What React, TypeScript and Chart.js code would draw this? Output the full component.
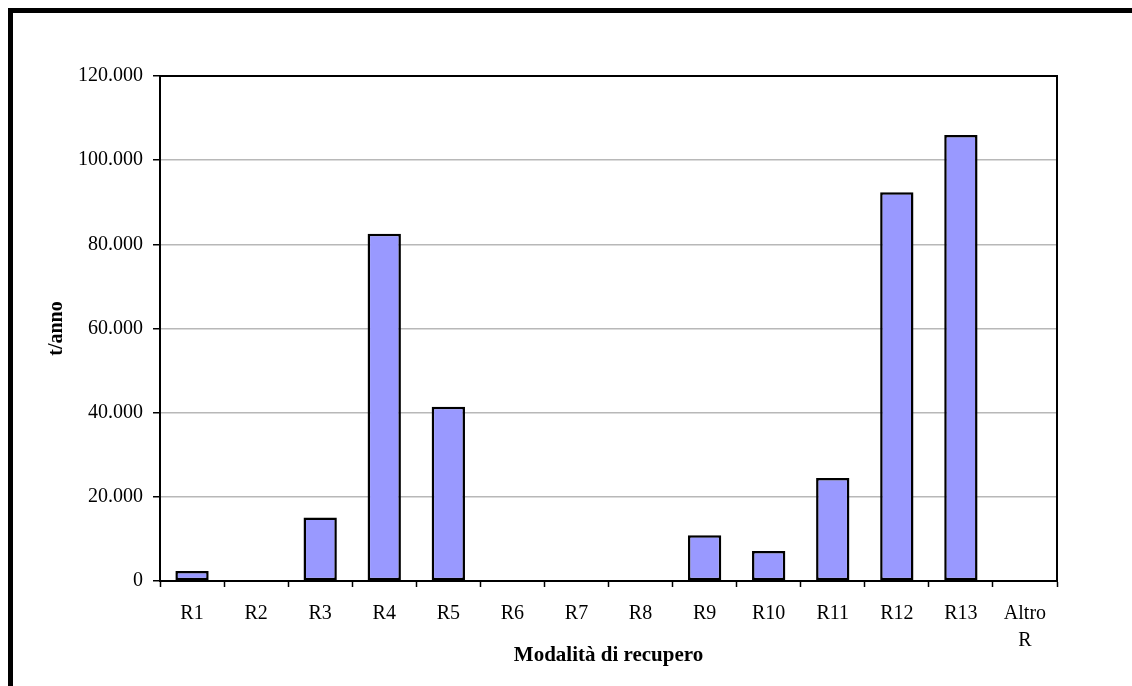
import React, { useEffect, useRef } from "react";
import { Chart, registerables } from "chart.js";

Chart.register(...registerables);

const categories: (string | string[])[] = ["R1", "R2", "R3", "R4", "R5", "R6", "R7", "R8", "R9", "R10", "R11", "R12", "R13", ["Altro", "R"]];
const values: number[] = [2400, 0, 15100, 82500, 41400, 0, 0, 0, 10900, 7100, 24500, 92400, 106000, 0];
const yTicks: number[] = [0, 20000, 40000, 60000, 80000, 100000, 120000];
const xTitle = "Modalità di recupero";
const yTitle = "t/anno";

const FONT = "'Liberation Serif', 'Times New Roman', serif";

function fmt(v: number): string {
  return String(Math.round(v)).replace(/\B(?=(\d{3})+(?!\d))/g, ".");
}

const framePlugin = {
  id: "plotFrame",
  afterDraw(chart: any) {
    const { ctx, chartArea } = chart;
    ctx.save();
    ctx.strokeStyle = "#000";
    ctx.lineWidth = 2;
    ctx.strokeRect(chartArea.left, chartArea.top, chartArea.right - chartArea.left, chartArea.bottom - chartArea.top);
    ctx.restore();
  },
};

export default function App() {
  const ref = useRef<HTMLCanvasElement | null>(null);
  useEffect(() => {
    if (!ref.current) return;
    const chart = new Chart(ref.current, {
      type: "bar",
      data: {
        labels: categories,
        datasets: [
          {
            data: values,
            backgroundColor: "#9999FF",
            borderColor: "#000000",
            borderWidth: 2.5,
            borderSkipped: false,
            barPercentage: 0.52,
            categoryPercentage: 1,
          },
        ],
      },
      options: {
        animation: false,
        responsive: true,
        maintainAspectRatio: false,
        layout: { padding: { top: 63, right: 75, left: 0, bottom: 0 } },
        plugins: { legend: { display: false }, tooltip: { enabled: false } },
        scales: {
          x: {
            grid: {
              drawOnChartArea: false,
              drawTicks: true,
              tickLength: 6,
              tickColor: "#000",
              tickWidth: 1.5,
              offset: true,
            },
            border: { display: true, color: "#000", width: 2 },
            ticks: {
              color: "#000",
              padding: 13,
              maxRotation: 0,
              autoSkip: false,
              font: { family: FONT, size: 20, lineHeight: 1.35 },
            },
            title: {
              display: true,
              text: xTitle,
              color: "#000",
              padding: { top: 0, bottom: 18 },
              font: { family: FONT, size: 21, weight: "bold" },
            },
            afterFit(scale: any) {
              scale.height = 105;
            },
          },
          y: {
            min: 0,
            max: 120000,
            afterBuildTicks(scale: any) {
              scale.ticks = yTicks.map((v) => ({ value: v }));
            },
            grid: {
              color: "#b8b8b8",
              lineWidth: 1.5,
              drawTicks: true,
              tickLength: 7,
              tickColor: "#000",
              tickWidth: 1.5,
            },
            border: { display: true, color: "#000", width: 2 },
            ticks: {
              color: "#000",
              padding: 10,
              font: { family: FONT, size: 20 },
              callback: (v: any) => fmt(Number(v)),
            },
            title: {
              display: true,
              text: yTitle,
              color: "#000",
              padding: { top: 32, bottom: 0 },
              font: { family: FONT, size: 20, weight: "bold" },
            },
            afterFit(scale: any) {
              scale.width = 147;
            },
          },
        },
      },
      plugins: [framePlugin],
    } as any);
    return () => chart.destroy();
  }, []);

  return (
    <div style={{ position: "fixed", left: 8, top: 8, width: 1124, height: 678, overflow: "hidden" }}>
      <div
        style={{
          position: "absolute",
          left: 0,
          top: 0,
          width: 1200,
          height: 760,
          border: "5px solid #000",
          background: "#fff",
        }}
      >
        <div style={{ position: "absolute", left: 0, top: 0, width: 1119, height: 673 }}>
          <canvas ref={ref} />
        </div>
      </div>
    </div>
  );
}
